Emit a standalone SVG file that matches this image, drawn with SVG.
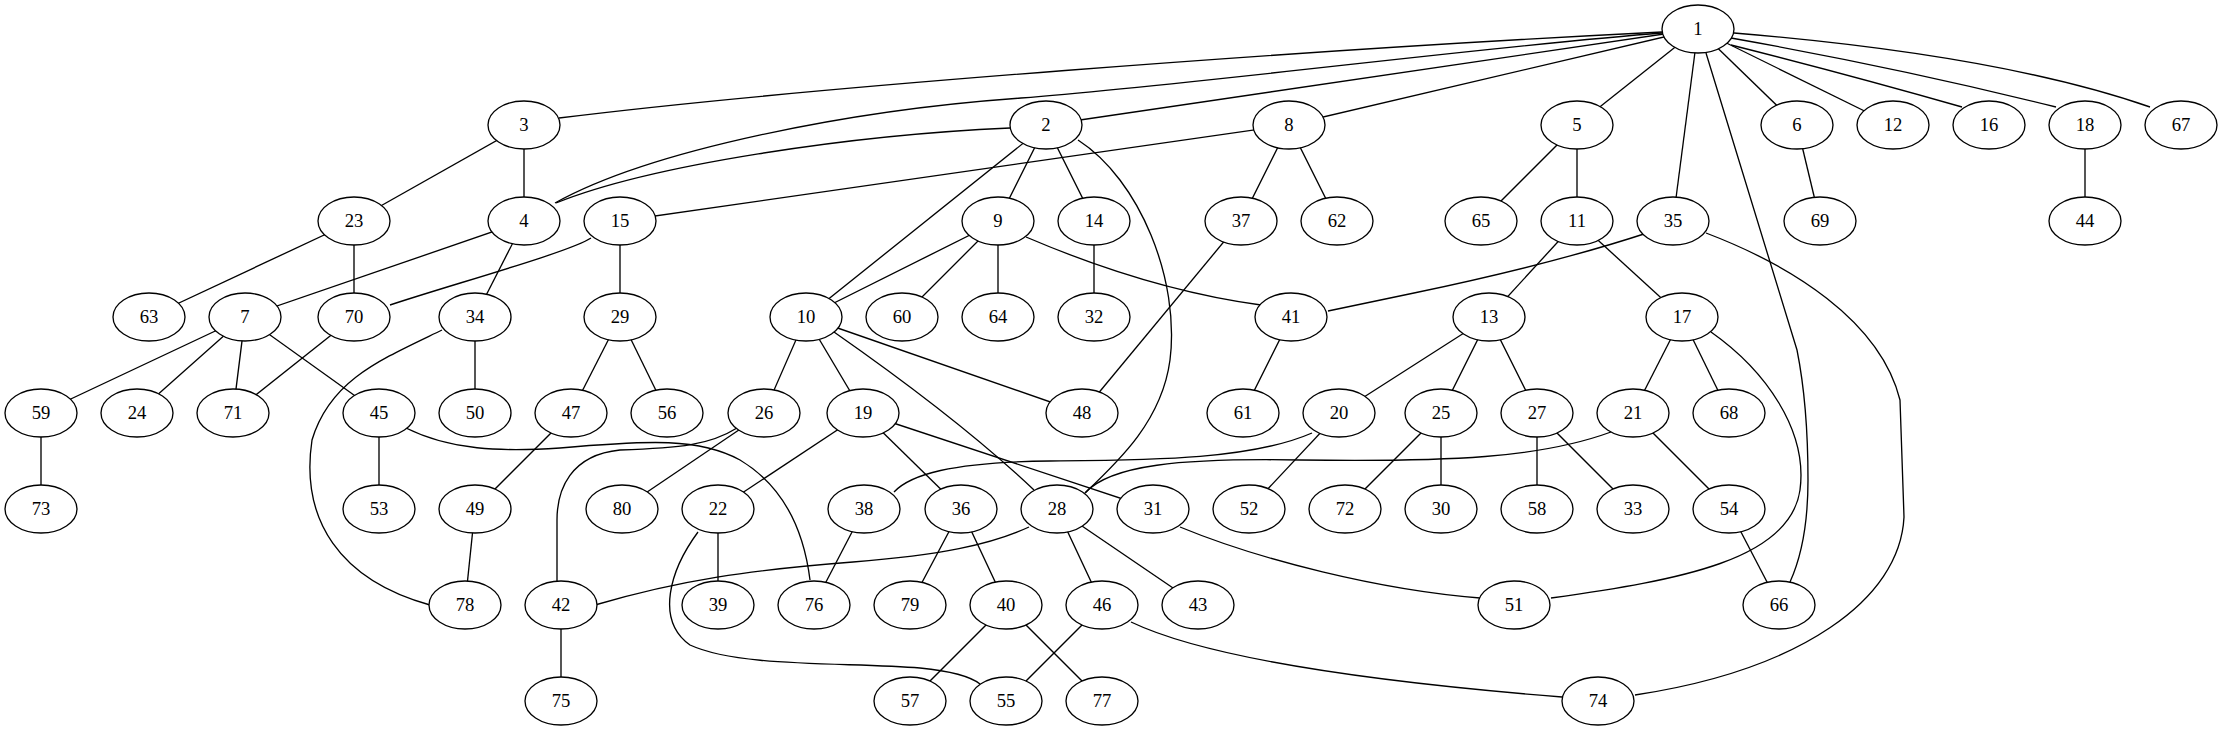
<svg xmlns="http://www.w3.org/2000/svg" width="2223" height="731" viewBox="0 0 2223 731">
<style>
.e{fill:none;stroke:#000;stroke-width:1.33}
.n ellipse{fill:#fff;stroke:#000;stroke-width:1.33}
.n text{font-family:"Liberation Serif","Times New Roman",serif;font-size:18.67px;text-anchor:middle;fill:#000}
</style>
<rect width="2223" height="731" fill="#fff"/>
<g id="edges">
<path class="e" d="M1662,32 C1300,50 800,88 559,118"/>
<path class="e" d="M555,203 C650,150 850,110 1021,98 C1200,84 1500,45 1662,33"/>
<path class="e" d="M1010,128 C850,135 650,165 556,203"/>
<path class="e" d="M1046,125 L1698,29"/>
<path class="e" d="M1289,125 L1698,29"/>
<path class="e" d="M1577,125 L1698,29"/>
<path class="e" d="M1673,221 L1698,29"/>
<path class="e" d="M1706,53 L1797,350 C1805,390 1808,430 1808,480 C1808,530 1800,560 1790,582"/>
<path class="e" d="M1797,125 L1698,29"/>
<path class="e" d="M1893,125 L1698,29"/>
<path class="e" d="M1731,45 Q1850,75 1962,107"/>
<path class="e" d="M1731,38 Q1900,68 2056,107"/>
<path class="e" d="M1734,33 Q2000,55 2150,107"/>
<path class="e" d="M524,125 L354,221"/>
<path class="e" d="M524,125 L524,221"/>
<path class="e" d="M354,221 L149,317"/>
<path class="e" d="M354,221 L354,317"/>
<path class="e" d="M524,221 L245,317"/>
<path class="e" d="M524,221 L475,317"/>
<path class="e" d="M1289,125 L620,221"/>
<path class="e" d="M591,238 C570,252 450,285 390,305"/>
<path class="e" d="M620,221 L620,317"/>
<path class="e" d="M245,317 L41,413"/>
<path class="e" d="M245,317 L137,413"/>
<path class="e" d="M245,317 L233,413"/>
<path class="e" d="M245,317 L379,413"/>
<path class="e" d="M354,317 L233,413"/>
<path class="e" d="M442,330 C380,360 330,380 312,440 C300,520 340,580 430,605"/>
<path class="e" d="M475,317 L475,413"/>
<path class="e" d="M620,317 L571,413"/>
<path class="e" d="M620,317 L667,413"/>
<path class="e" d="M41,413 L41,509"/>
<path class="e" d="M379,413 L379,509"/>
<path class="e" d="M406,428 C450,450 500,452 560,448 C650,440 700,438 740,460 C790,490 805,540 810,580"/>
<path class="e" d="M571,413 L475,509"/>
<path class="e" d="M475,509 L465,605"/>
<path class="e" d="M737,428 C710,445 680,448 620,450 C570,455 557,490 557,520 L557,582"/>
<path class="e" d="M764,413 L622,509"/>
<path class="e" d="M561,605 L561,701"/>
<path class="e" d="M718,509 L718,605"/>
<path class="e" d="M698,532 C670,570 655,620 690,645 C740,668 850,662 920,668 C960,672 975,680 980,684"/>
<path class="e" d="M1029,527 C990,545 940,555 853,562 C750,570 680,580 595,605"/>
<path class="e" d="M1046,125 L806,317"/>
<path class="e" d="M1046,125 L998,221"/>
<path class="e" d="M1046,125 L1094,221"/>
<path class="e" d="M1078,140 C1140,180 1180,280 1170,360 C1162,420 1120,460 1085,493"/>
<path class="e" d="M1289,125 L1241,221"/>
<path class="e" d="M1289,125 L1337,221"/>
<path class="e" d="M998,221 L806,317"/>
<path class="e" d="M998,221 L902,317"/>
<path class="e" d="M998,221 L998,317"/>
<path class="e" d="M1026,237 Q1150,290 1261,305"/>
<path class="e" d="M1094,221 L1094,317"/>
<path class="e" d="M1241,221 L1082,413"/>
<path class="e" d="M1291,317 L1243,413"/>
<path class="e" d="M1647,233 C1580,255 1500,275 1414,293 L1328,311"/>
<path class="e" d="M806,317 L764,413"/>
<path class="e" d="M806,317 L863,413"/>
<path class="e" d="M834,332 Q960,420 1034,490"/>
<path class="e" d="M806,317 L1082,413"/>
<path class="e" d="M863,413 L718,509"/>
<path class="e" d="M863,413 L961,509"/>
<path class="e" d="M863,413 L1153,509"/>
<path class="e" d="M1489,317 L1339,413"/>
<path class="e" d="M1489,317 L1441,413"/>
<path class="e" d="M1489,317 L1537,413"/>
<path class="e" d="M1577,221 L1489,317"/>
<path class="e" d="M1577,221 L1682,317"/>
<path class="e" d="M1577,125 L1481,221"/>
<path class="e" d="M1577,125 L1577,221"/>
<path class="e" d="M1797,125 L1820,221"/>
<path class="e" d="M2085,125 L2085,221"/>
<path class="e" d="M1682,317 L1633,413"/>
<path class="e" d="M1682,317 L1729,413"/>
<path class="e" d="M1711,332 C1765,370 1808,430 1800,490 C1790,560 1680,580 1551,598"/>
<path class="e" d="M1706,233 C1790,265 1880,320 1900,400 L1904,517 C1900,600 1800,670 1635,695"/>
<path class="e" d="M1312,433 C1250,460 1150,460 1050,461 C950,462 910,475 894,492"/>
<path class="e" d="M1611,432 C1540,458 1450,462 1300,460 C1180,458 1110,465 1085,493"/>
<path class="e" d="M1339,413 L1249,509"/>
<path class="e" d="M1441,413 L1345,509"/>
<path class="e" d="M1441,413 L1441,509"/>
<path class="e" d="M1537,413 L1537,509"/>
<path class="e" d="M1537,413 L1633,509"/>
<path class="e" d="M1633,413 L1729,509"/>
<path class="e" d="M1729,509 L1779,605"/>
<path class="e" d="M864,509 L814,605"/>
<path class="e" d="M961,509 L910,605"/>
<path class="e" d="M961,509 L1006,605"/>
<path class="e" d="M1057,509 L1102,605"/>
<path class="e" d="M1057,509 L1198,605"/>
<path class="e" d="M1180,527 C1260,560 1380,590 1480,598"/>
<path class="e" d="M1006,605 L910,701"/>
<path class="e" d="M1006,605 L1102,701"/>
<path class="e" d="M1102,605 L1006,701"/>
<path class="e" d="M1131,622 C1200,655 1350,680 1562,697"/>
</g>
<g id="n1" class="n"><ellipse cx="1698" cy="29" rx="36" ry="24"/><text x="1698" y="35">1</text></g>
<g id="n3" class="n"><ellipse cx="524" cy="125" rx="36" ry="24"/><text x="524" y="131">3</text></g>
<g id="n2" class="n"><ellipse cx="1046" cy="125" rx="36" ry="24"/><text x="1046" y="131">2</text></g>
<g id="n8" class="n"><ellipse cx="1289" cy="125" rx="36" ry="24"/><text x="1289" y="131">8</text></g>
<g id="n5" class="n"><ellipse cx="1577" cy="125" rx="36" ry="24"/><text x="1577" y="131">5</text></g>
<g id="n6" class="n"><ellipse cx="1797" cy="125" rx="36" ry="24"/><text x="1797" y="131">6</text></g>
<g id="n12" class="n"><ellipse cx="1893" cy="125" rx="36" ry="24"/><text x="1893" y="131">12</text></g>
<g id="n16" class="n"><ellipse cx="1989" cy="125" rx="36" ry="24"/><text x="1989" y="131">16</text></g>
<g id="n18" class="n"><ellipse cx="2085" cy="125" rx="36" ry="24"/><text x="2085" y="131">18</text></g>
<g id="n67" class="n"><ellipse cx="2181" cy="125" rx="36" ry="24"/><text x="2181" y="131">67</text></g>
<g id="n23" class="n"><ellipse cx="354" cy="221" rx="36" ry="24"/><text x="354" y="227">23</text></g>
<g id="n4" class="n"><ellipse cx="524" cy="221" rx="36" ry="24"/><text x="524" y="227">4</text></g>
<g id="n15" class="n"><ellipse cx="620" cy="221" rx="36" ry="24"/><text x="620" y="227">15</text></g>
<g id="n9" class="n"><ellipse cx="998" cy="221" rx="36" ry="24"/><text x="998" y="227">9</text></g>
<g id="n14" class="n"><ellipse cx="1094" cy="221" rx="36" ry="24"/><text x="1094" y="227">14</text></g>
<g id="n37" class="n"><ellipse cx="1241" cy="221" rx="36" ry="24"/><text x="1241" y="227">37</text></g>
<g id="n62" class="n"><ellipse cx="1337" cy="221" rx="36" ry="24"/><text x="1337" y="227">62</text></g>
<g id="n65" class="n"><ellipse cx="1481" cy="221" rx="36" ry="24"/><text x="1481" y="227">65</text></g>
<g id="n11" class="n"><ellipse cx="1577" cy="221" rx="36" ry="24"/><text x="1577" y="227">11</text></g>
<g id="n35" class="n"><ellipse cx="1673" cy="221" rx="36" ry="24"/><text x="1673" y="227">35</text></g>
<g id="n69" class="n"><ellipse cx="1820" cy="221" rx="36" ry="24"/><text x="1820" y="227">69</text></g>
<g id="n44" class="n"><ellipse cx="2085" cy="221" rx="36" ry="24"/><text x="2085" y="227">44</text></g>
<g id="n63" class="n"><ellipse cx="149" cy="317" rx="36" ry="24"/><text x="149" y="323">63</text></g>
<g id="n7" class="n"><ellipse cx="245" cy="317" rx="36" ry="24"/><text x="245" y="323">7</text></g>
<g id="n70" class="n"><ellipse cx="354" cy="317" rx="36" ry="24"/><text x="354" y="323">70</text></g>
<g id="n34" class="n"><ellipse cx="475" cy="317" rx="36" ry="24"/><text x="475" y="323">34</text></g>
<g id="n29" class="n"><ellipse cx="620" cy="317" rx="36" ry="24"/><text x="620" y="323">29</text></g>
<g id="n10" class="n"><ellipse cx="806" cy="317" rx="36" ry="24"/><text x="806" y="323">10</text></g>
<g id="n60" class="n"><ellipse cx="902" cy="317" rx="36" ry="24"/><text x="902" y="323">60</text></g>
<g id="n64" class="n"><ellipse cx="998" cy="317" rx="36" ry="24"/><text x="998" y="323">64</text></g>
<g id="n32" class="n"><ellipse cx="1094" cy="317" rx="36" ry="24"/><text x="1094" y="323">32</text></g>
<g id="n41" class="n"><ellipse cx="1291" cy="317" rx="36" ry="24"/><text x="1291" y="323">41</text></g>
<g id="n13" class="n"><ellipse cx="1489" cy="317" rx="36" ry="24"/><text x="1489" y="323">13</text></g>
<g id="n17" class="n"><ellipse cx="1682" cy="317" rx="36" ry="24"/><text x="1682" y="323">17</text></g>
<g id="n59" class="n"><ellipse cx="41" cy="413" rx="36" ry="24"/><text x="41" y="419">59</text></g>
<g id="n24" class="n"><ellipse cx="137" cy="413" rx="36" ry="24"/><text x="137" y="419">24</text></g>
<g id="n71" class="n"><ellipse cx="233" cy="413" rx="36" ry="24"/><text x="233" y="419">71</text></g>
<g id="n45" class="n"><ellipse cx="379" cy="413" rx="36" ry="24"/><text x="379" y="419">45</text></g>
<g id="n50" class="n"><ellipse cx="475" cy="413" rx="36" ry="24"/><text x="475" y="419">50</text></g>
<g id="n47" class="n"><ellipse cx="571" cy="413" rx="36" ry="24"/><text x="571" y="419">47</text></g>
<g id="n56" class="n"><ellipse cx="667" cy="413" rx="36" ry="24"/><text x="667" y="419">56</text></g>
<g id="n26" class="n"><ellipse cx="764" cy="413" rx="36" ry="24"/><text x="764" y="419">26</text></g>
<g id="n19" class="n"><ellipse cx="863" cy="413" rx="36" ry="24"/><text x="863" y="419">19</text></g>
<g id="n48" class="n"><ellipse cx="1082" cy="413" rx="36" ry="24"/><text x="1082" y="419">48</text></g>
<g id="n61" class="n"><ellipse cx="1243" cy="413" rx="36" ry="24"/><text x="1243" y="419">61</text></g>
<g id="n20" class="n"><ellipse cx="1339" cy="413" rx="36" ry="24"/><text x="1339" y="419">20</text></g>
<g id="n25" class="n"><ellipse cx="1441" cy="413" rx="36" ry="24"/><text x="1441" y="419">25</text></g>
<g id="n27" class="n"><ellipse cx="1537" cy="413" rx="36" ry="24"/><text x="1537" y="419">27</text></g>
<g id="n21" class="n"><ellipse cx="1633" cy="413" rx="36" ry="24"/><text x="1633" y="419">21</text></g>
<g id="n68" class="n"><ellipse cx="1729" cy="413" rx="36" ry="24"/><text x="1729" y="419">68</text></g>
<g id="n73" class="n"><ellipse cx="41" cy="509" rx="36" ry="24"/><text x="41" y="515">73</text></g>
<g id="n53" class="n"><ellipse cx="379" cy="509" rx="36" ry="24"/><text x="379" y="515">53</text></g>
<g id="n49" class="n"><ellipse cx="475" cy="509" rx="36" ry="24"/><text x="475" y="515">49</text></g>
<g id="n80" class="n"><ellipse cx="622" cy="509" rx="36" ry="24"/><text x="622" y="515">80</text></g>
<g id="n22" class="n"><ellipse cx="718" cy="509" rx="36" ry="24"/><text x="718" y="515">22</text></g>
<g id="n38" class="n"><ellipse cx="864" cy="509" rx="36" ry="24"/><text x="864" y="515">38</text></g>
<g id="n36" class="n"><ellipse cx="961" cy="509" rx="36" ry="24"/><text x="961" y="515">36</text></g>
<g id="n28" class="n"><ellipse cx="1057" cy="509" rx="36" ry="24"/><text x="1057" y="515">28</text></g>
<g id="n31" class="n"><ellipse cx="1153" cy="509" rx="36" ry="24"/><text x="1153" y="515">31</text></g>
<g id="n52" class="n"><ellipse cx="1249" cy="509" rx="36" ry="24"/><text x="1249" y="515">52</text></g>
<g id="n72" class="n"><ellipse cx="1345" cy="509" rx="36" ry="24"/><text x="1345" y="515">72</text></g>
<g id="n30" class="n"><ellipse cx="1441" cy="509" rx="36" ry="24"/><text x="1441" y="515">30</text></g>
<g id="n58" class="n"><ellipse cx="1537" cy="509" rx="36" ry="24"/><text x="1537" y="515">58</text></g>
<g id="n33" class="n"><ellipse cx="1633" cy="509" rx="36" ry="24"/><text x="1633" y="515">33</text></g>
<g id="n54" class="n"><ellipse cx="1729" cy="509" rx="36" ry="24"/><text x="1729" y="515">54</text></g>
<g id="n78" class="n"><ellipse cx="465" cy="605" rx="36" ry="24"/><text x="465" y="611">78</text></g>
<g id="n42" class="n"><ellipse cx="561" cy="605" rx="36" ry="24"/><text x="561" y="611">42</text></g>
<g id="n39" class="n"><ellipse cx="718" cy="605" rx="36" ry="24"/><text x="718" y="611">39</text></g>
<g id="n76" class="n"><ellipse cx="814" cy="605" rx="36" ry="24"/><text x="814" y="611">76</text></g>
<g id="n79" class="n"><ellipse cx="910" cy="605" rx="36" ry="24"/><text x="910" y="611">79</text></g>
<g id="n40" class="n"><ellipse cx="1006" cy="605" rx="36" ry="24"/><text x="1006" y="611">40</text></g>
<g id="n46" class="n"><ellipse cx="1102" cy="605" rx="36" ry="24"/><text x="1102" y="611">46</text></g>
<g id="n43" class="n"><ellipse cx="1198" cy="605" rx="36" ry="24"/><text x="1198" y="611">43</text></g>
<g id="n51" class="n"><ellipse cx="1514" cy="605" rx="36" ry="24"/><text x="1514" y="611">51</text></g>
<g id="n66" class="n"><ellipse cx="1779" cy="605" rx="36" ry="24"/><text x="1779" y="611">66</text></g>
<g id="n75" class="n"><ellipse cx="561" cy="701" rx="36" ry="24"/><text x="561" y="707">75</text></g>
<g id="n57" class="n"><ellipse cx="910" cy="701" rx="36" ry="24"/><text x="910" y="707">57</text></g>
<g id="n55" class="n"><ellipse cx="1006" cy="701" rx="36" ry="24"/><text x="1006" y="707">55</text></g>
<g id="n77" class="n"><ellipse cx="1102" cy="701" rx="36" ry="24"/><text x="1102" y="707">77</text></g>
<g id="n74" class="n"><ellipse cx="1598" cy="701" rx="36" ry="24"/><text x="1598" y="707">74</text></g>
</svg>
